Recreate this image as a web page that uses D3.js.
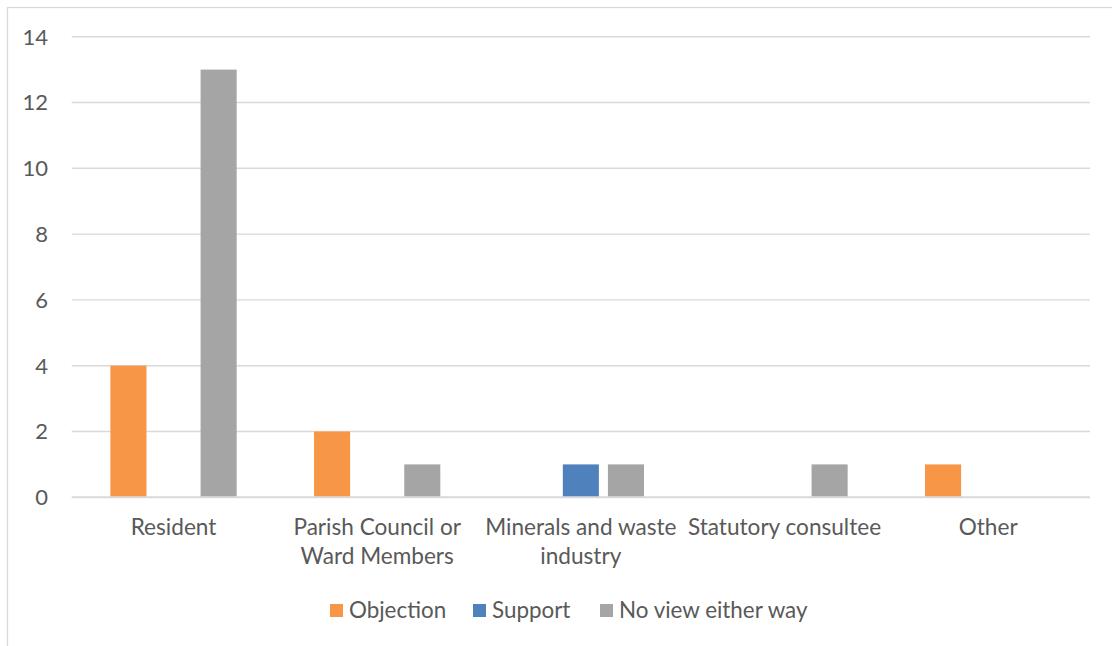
<!DOCTYPE html>
<html>
<head>
<meta charset="utf-8">
<script src="https://cdn.jsdelivr.net/npm/d3@7"></script>
<style>
  body { margin: 0; background: #fff; }
  svg { display: block; }
  text { font-family: "Lato", "Open Sans", sans-serif; fill: #595959; }
</style>
</head>
<body>
<svg></svg>
<script>
var categories = ["Resident", "Parish Council or\nWard Members", "Minerals and waste\nindustry", "Statutory consultee", "Other"]
var seriesNames = ["Objection", "Support", "No view either way"]
var objection = [4, 2, 0, 0, 1]
var support = [0, 0, 1, 0, 0]
var noView = [13, 1, 1, 1, 0]
var yTicks = [0, 2, 4, 6, 8, 10, 12, 14]
var colors = ["#F79646", "#4F81BD", "#A5A5A5"]

var width = 1112
var height = 646
var margin = {left: 71.7, right: 1090, top: 36.7, bottom: 497.3}

var svg = d3.select("svg")
    .attr("width", width)
    .attr("height", height)

// chart frame (runs off the right and bottom edge)
svg.append("rect")
    .attr("x", 7.5).attr("y", 7.5)
    .attr("width", 1120).attr("height", 700)
    .attr("fill", "none")
    .attr("stroke", "#D9D9D9")
    .attr("stroke-width", 1.3)

var rows = categories.map(function(c, i) {
    return {cat: c, values: [objection[i], support[i], noView[i]]}
})

var x0 = d3.scaleBand()
    .domain(categories)
    .range([margin.left, margin.right])
    .paddingInner(0.38)
    .paddingOuter(0.19)

var x1 = d3.scaleBand()
    .domain(d3.range(seriesNames.length))
    .range([0, x0.bandwidth()])
    .paddingInner(0.2)

var y = d3.scaleLinear()
    .domain([0, 14])
    .range([margin.bottom, margin.top])

// gridlines
svg.append("g")
    .selectAll("line")
    .data(yTicks)
    .enter().append("line")
    .attr("x1", margin.left)
    .attr("x2", margin.right)
    .attr("y1", function(d) { return y(d) })
    .attr("y2", function(d) { return y(d) })
    .attr("stroke", "#D9D9D9")
    .attr("stroke-width", function(d) { return d == 0 ? 2 : 1.4 })

// y tick labels
svg.append("g")
    .selectAll("text")
    .data(yTicks)
    .enter().append("text")
    .attr("x", 48)
    .attr("y", function(d) { return y(d) })
    .attr("dy", "0.36em")
    .attr("text-anchor", "end")
    .style("font-size", "22px")
    .text(function(d) { return d })

// bars
var group = svg.append("g")
    .selectAll("g")
    .data(rows)
    .enter().append("g")
    .attr("transform", function(d) { return "translate(" + x0(d.cat) + ",0)" })

group.selectAll("rect")
    .data(function(d) { return d.values.map(function(v, i) { return {i: i, v: v} }) })
    .enter().append("rect")
    .filter(function(d) { return d.v > 0 })
    .attr("x", function(d) { return x1(d.i) })
    .attr("width", x1.bandwidth())
    .attr("y", function(d) { return y(d.v) })
    .attr("height", function(d) { return y(0) - y(d.v) - 1 })
    .attr("fill", function(d) { return colors[d.i] })

// category labels
var catLabel = svg.append("g")
    .selectAll("text")
    .data(categories)
    .enter().append("text")
    .attr("x", function(d) { return x0(d) + x0.bandwidth() / 2 })
    .attr("y", 535)
    .attr("text-anchor", "middle")
    .style("font-size", "22.6px")

catLabel.selectAll("tspan")
    .data(function(d) { return d.split("\n") })
    .enter().append("tspan")
    .attr("x", function() { return d3.select(this.parentNode).attr("x") })
    .attr("dy", function(d, i) { return i == 0 ? 0 : 29 })
    .text(function(d) { return d })

// legend
var legendX = [330, 473, 600]
var legend = svg.append("g")
    .selectAll("g")
    .data(seriesNames)
    .enter().append("g")
    .attr("transform", function(d, i) { return "translate(" + legendX[i] + ",604)" })

legend.append("rect")
    .attr("width", 13).attr("height", 13)
    .attr("fill", function(d, i) { return colors[i] })

legend.append("text")
    .attr("x", 19)
    .attr("y", 13.5)
    .style("font-size", "22.4px")
    .text(function(d) { return d })
</script>
</body>
</html>
